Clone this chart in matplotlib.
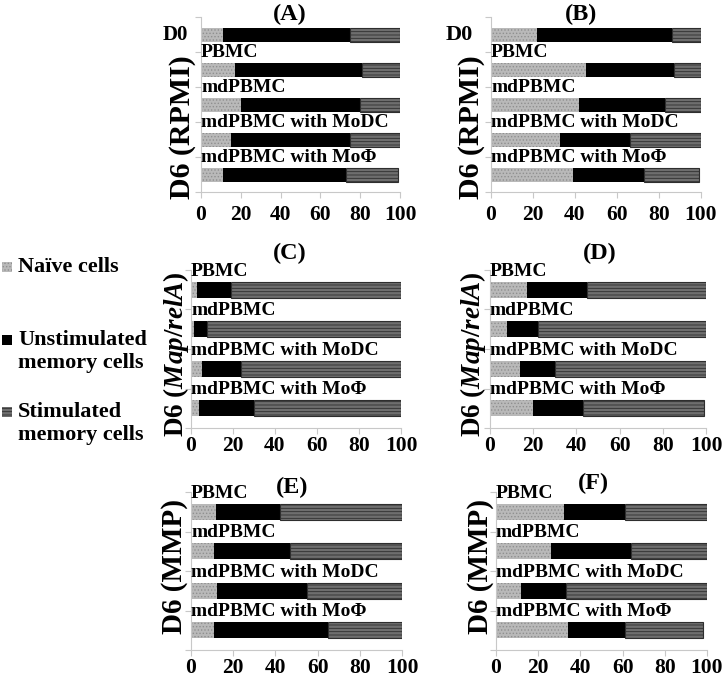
import matplotlib
matplotlib.use('Agg')
import matplotlib.pyplot as plt
from matplotlib.patches import Rectangle

plt.rcParams['font.family'] = ['Liberation Serif', 'DejaVu Serif']
plt.rcParams['font.weight'] = 'bold'
plt.rcParams['mathtext.fontset'] = 'custom'
plt.rcParams['mathtext.rm'] = 'Liberation Serif:bold'
plt.rcParams['mathtext.it'] = 'Liberation Serif:italic:bold'
plt.rcParams['hatch.linewidth'] = 0.6

labels5 = ['', 'PBMC', 'mdPBMC', 'mdPBMC with MoDC', 'mdPBMC with MoΦ']
labels4 = ['PBMC', 'mdPBMC', 'mdPBMC with MoDC', 'mdPBMC with MoΦ']
ticks = [0, 20, 40, 60, 80, 100]

naive_a = [11, 17, 20, 15, 11]
unstim_a = [64, 64, 60, 60, 62]
stim_a = [25, 19, 20, 25, 26]

naive_b = [22, 45, 42, 33, 39]
unstim_b = [64, 42, 41, 33, 34]
stim_b = [14, 13, 17, 34, 26]

naive_c = [3, 1.5, 5, 4]
unstim_c = [16, 6, 19, 26]
stim_c = [81, 92.5, 76, 70]

naive_d = [17, 8, 14, 20]
unstim_d = [28, 14, 16, 23]
stim_d = [55, 78, 70, 56]

naive_e = [12, 11, 12.5, 11]
unstim_e = [30, 36, 42.5, 54]
stim_e = [58, 53, 45, 35]

naive_f = [32, 26, 12, 34]
unstim_f = [29, 38, 21, 27]
stim_f = [39, 36, 67, 37]


def panel(fig, rect, names, naive, unstim, stim, pad):
    ax = fig.add_axes(rect)
    n = len(names)
    y = list(range(n))
    left2 = [a for a in naive]
    left3 = [a + b for a, b in zip(naive, unstim)]
    ax.barh(y, naive, height=0.4, color='#b9b9b9', edgecolor='#8f8f8f', hatch='.....', linewidth=0)
    ax.barh(y, unstim, left=left2, height=0.4, color='black', edgecolor='black', linewidth=0)
    ax.barh(y, stim, left=left3, height=0.4, color='#6e6e6e', edgecolor='#2e2e2e', hatch='-----', linewidth=0.8)
    for i, name in enumerate(names):
        ax.text(0.0, i - 0.25, name, ha='left', va='bottom', fontsize=14, fontweight='bold')
    ax.set_xlim(0, 100)
    ax.set_ylim(n - 0.5, -0.5)
    ax.set_xticks(ticks)
    ax.set_xticklabels([str(t) for t in ticks], fontsize=15.5, fontweight='bold')
    ax.set_yticks([i - 0.5 for i in range(n + 1)])
    ax.set_yticklabels([])
    for s in ['top', 'right']:
        ax.spines[s].set_visible(False)
    for s in ['left', 'bottom']:
        ax.spines[s].set_color('#c8c8c8')
        ax.spines[s].set_linewidth(0.8)
    ax.tick_params(axis='both', colors='#c8c8c8', length=4, width=0.8)
    ax.tick_params(axis='x', labelcolor='black', pad=pad)
    return ax


fig = plt.figure(figsize=(7.27, 6.83), dpi=100)
W, H = 727.0, 683.0


def box(x0, x1, ytop, ybot):
    return [x0 / W, 1 - ybot / H, (x1 - x0) / W, (ybot - ytop) / H]


panel(fig, box(201, 400, 17, 192), labels5, naive_a, unstim_a, stim_a, 5)
panel(fig, box(491, 701, 17, 192), labels5, naive_b, unstim_b, stim_b, 5)
panel(fig, box(191, 401, 270, 428), labels4, naive_c, unstim_c, stim_c, 2)
panel(fig, box(490, 706, 270, 428), labels4, naive_d, unstim_d, stim_d, 2)
panel(fig, box(191, 402, 492, 650), labels4, naive_e, unstim_e, stim_e, 2)
panel(fig, box(496, 707, 492, 650), labels4, naive_f, unstim_f, stim_f, 2)

# panel titles
for t, x, y in [('(A)', 290, 14), ('(B)', 581, 14), ('(C)', 290, 253),
                ('(D)', 600, 253), ('(E)', 292, 487), ('(F)', 593, 483)]:
    fig.text(x / W, 1 - y / H, t, ha='center', va='center', fontsize=17.5, fontweight='bold')

# row labels
fig.text(175 / W, 1 - 35 / H, 'D0', ha='center', va='center', fontsize=15, fontweight='bold')
fig.text(459 / W, 1 - 35 / H, 'D0', ha='center', va='center', fontsize=16, fontweight='bold')
for x, y, t, fs in [(182, 127, 'D6 (RPMI)', 21.5), (472, 127, 'D6 (RPMI)', 21.5),
                    (176, 354, r'D6 ($\mathit{Map/relA}$)', 19.5), (473, 354, r'D6 ($\mathit{Map/relA}$)', 19.5),
                    (174, 567, 'D6 (MMP)', 21), (480, 566, 'D6 (MMP)', 21)]:
    fig.text(x / W, 1 - y / H, t, ha='center', va='center', rotation=90, fontsize=fs, fontweight='bold')

# legend
leg = [('Naïve cells', '#b9b9b9', '#8f8f8f', '.....', 267),
       ('Unstimulated\nmemory cells', 'black', 'black', None, 340),
       ('Stimulated\nmemory cells', '#6e6e6e', '#2e2e2e', '-----', 412)]
for txt, fc, ec, hatch, y in leg:
    fig.add_artist(Rectangle((2 / W, 1 - (y + 5) / H), 10 / W, 10 / H, transform=fig.transFigure,
                             facecolor=fc, edgecolor=ec, hatch=hatch, linewidth=0))
    fig.text(18 / W, 1 - (y - 10) / H, txt, ha='left', va='top', fontsize=16, fontweight='bold',
             linespacing=1.2)

plt.savefig('out.png', dpi=100)
